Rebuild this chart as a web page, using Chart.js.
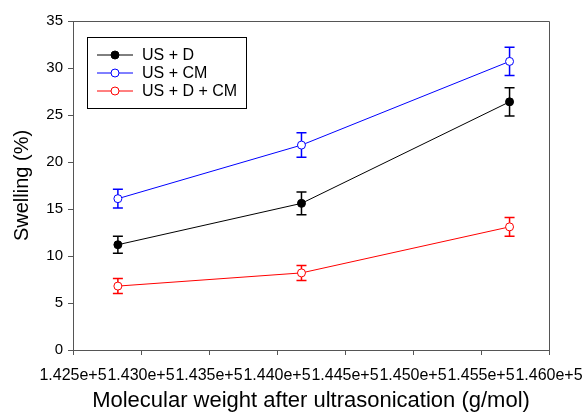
<!DOCTYPE html>
<html>
<head>
<meta charset="utf-8">
<script src="https://cdn.jsdelivr.net/npm/chart.js@4/dist/chart.umd.min.js"></script>
<style>
  html, body { margin: 0; padding: 0; background: #fff; }
  #wrap { width: 585px; height: 413px; }
</style>
</head>
<body>
<div id="wrap"><canvas id="swellChart" width="585" height="413"></canvas></div>
<script>
const molWeight = [142830, 144180, 145710];
const usD = [11.2, 15.6, 26.4];
const usDErr = [0.9, 1.2, 1.5];
const usCM = [16.1, 21.8, 30.7];
const usCMErr = [1.0, 1.3, 1.5];
const usDCM = [6.8, 8.2, 13.1];
const usDCMErr = [0.8, 0.8, 1.0];

const FONT = "'Liberation Sans', Arial, sans-serif";
const AXIS_COLOR = "#555";

function toPoints(ys, errs) {
  return ys.map((y, i) => ({ x: molWeight[i], y: y, err: errs[i] }));
}

function makeSet(label, color, ys, errs, filled) {
  return {
    label: label,
    data: toPoints(ys, errs),
    borderColor: color,
    backgroundColor: filled ? color : "#fff",
    pointBorderColor: color,
    pointBackgroundColor: filled ? color : "#fff",
    pointRadius: 4,
    pointBorderWidth: 1,
    borderWidth: 1,
    fill: false,
    tension: 0
  };
}

// error bars drawn through the scales
const errorBars = {
  id: "errorBars",
  beforeDatasetsDraw(chart) {
    const ctx = chart.ctx;
    const xs = chart.scales.x, ys = chart.scales.y;
    ctx.save();
    ctx.lineWidth = 1.5;
    chart.data.datasets.forEach(ds => {
      ctx.strokeStyle = ds.borderColor;
      ds.data.forEach(p => {
        const px = xs.getPixelForValue(p.x);
        const top = ys.getPixelForValue(p.y + p.err);
        const bot = ys.getPixelForValue(p.y - p.err);
        ctx.beginPath();
        ctx.moveTo(px, top); ctx.lineTo(px, bot);
        ctx.moveTo(px - 5, top); ctx.lineTo(px + 5, top);
        ctx.moveTo(px - 5, bot); ctx.lineTo(px + 5, bot);
        ctx.stroke();
      });
    });
    ctx.restore();
  }
};

// top/right frame and boxed legend
const frameAndLegend = {
  id: "frameAndLegend",
  afterDraw(chart) {
    const ctx = chart.ctx;
    const a = chart.chartArea;
    ctx.save();
    ctx.strokeStyle = AXIS_COLOR;
    ctx.lineWidth = 1;
    ctx.beginPath();
    ctx.moveTo(a.left, a.top + 0.5);
    ctx.lineTo(a.right + 0.5, a.top + 0.5);
    ctx.lineTo(a.right + 0.5, a.bottom);
    ctx.stroke();

    const bx = a.left + 14, by = a.top + 16;
    ctx.strokeStyle = "#000";
    ctx.strokeRect(bx + 0.5, by + 0.5, 159, 71);
    ctx.font = "16px " + FONT;
    ctx.textBaseline = "middle";
    chart.data.datasets.forEach((ds, i) => {
      const y = by + 18 + i * 18;
      ctx.strokeStyle = ds.borderColor;
      ctx.beginPath();
      ctx.moveTo(bx + 10, y); ctx.lineTo(bx + 46, y);
      ctx.stroke();
      ctx.beginPath();
      ctx.arc(bx + 28, y, 4, 0, Math.PI * 2);
      ctx.fillStyle = ds.pointBackgroundColor;
      ctx.fill();
      ctx.stroke();
      ctx.fillStyle = "#000";
      ctx.fillText(ds.label, bx + 55, y + 1);
    });
    ctx.restore();
  }
};

new Chart(document.getElementById("swellChart"), {
  type: "line",
  data: {
    datasets: [
      makeSet("US + D", "#000000", usD, usDErr, true),
      makeSet("US + CM", "#0000ff", usCM, usCMErr, false),
      makeSet("US + D + CM", "#ff0000", usDCM, usDCMErr, false)
    ]
  },
  options: {
    responsive: false,
    animation: false,
    layout: { padding: { top: 21, right: 36, left: 0, bottom: 0 } },
    plugins: { legend: { display: false }, tooltip: { enabled: false } },
    scales: {
      x: {
        type: "linear",
        min: 142500,
        max: 146000,
        afterFit(scale) {
          scale.height = 63;
          scale.paddingLeft = 0;
          scale.paddingRight = 0;
        },
        ticks: {
          stepSize: 500,
          autoSkip: false,
          maxRotation: 0,
          color: "#000",
          font: { family: FONT, size: 16 },
          padding: 11,
          callback: v => v.toExponential(3)
        },
        grid: { drawOnChartArea: false, drawTicks: true, tickLength: 5, color: AXIS_COLOR },
        border: { display: true, color: AXIS_COLOR },
        title: {
          display: true,
          text: "Molecular weight after ultrasonication (g/mol)",
          color: "#000",
          font: { family: FONT, size: 22, lineHeight: 1 },
          padding: { top: 0, bottom: 1 }
        }
      },
      y: {
        min: 0,
        max: 35,
        afterFit(scale) { scale.width = 73; },
        ticks: {
          stepSize: 5,
          color: "#000",
          font: { family: FONT, size: 15 },
          padding: 5
        },
        grid: { drawOnChartArea: false, drawTicks: true, tickLength: 5, color: AXIS_COLOR },
        border: { display: true, color: AXIS_COLOR },
        title: {
          display: true,
          text: "Swelling (%)",
          color: "#000",
          font: { family: FONT, size: 20, lineHeight: 1.2 },
          padding: { top: 10, bottom: 0 }
        }
      }
    }
  },
  plugins: [errorBars, frameAndLegend]
});
</script>
</body>
</html>
